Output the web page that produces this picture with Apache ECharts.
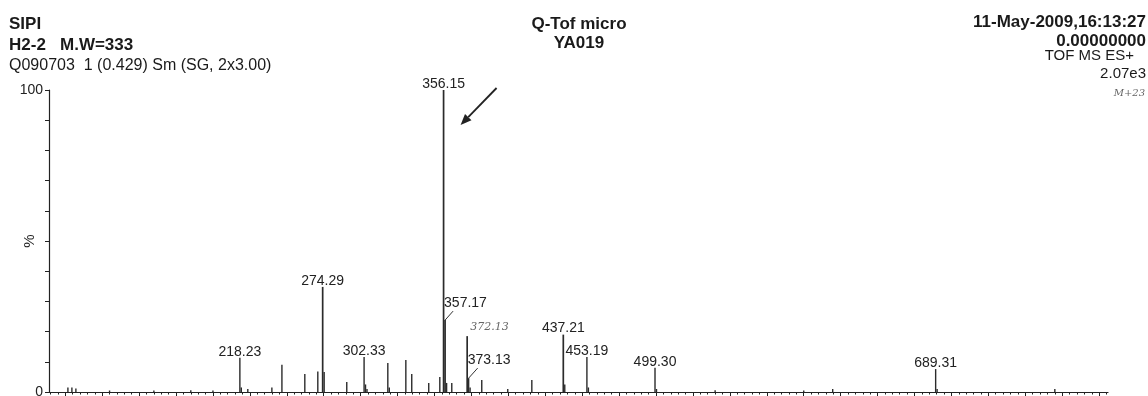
<!DOCTYPE html>
<html>
<head>
<meta charset="utf-8">
<script src="https://cdn.jsdelivr.net/npm/echarts@6/dist/echarts.min.js"></script>
<style>
  html, body { margin: 0; padding: 0; background: #fff; }
  #chart { width: 1148px; height: 396px; }
</style>
</head>
<body>
<div id="chart"></div>
<script>
// spectrum sticks: m/z and relative intensity (%)
const peakMz = [101.8, 104.5, 107.2, 130.0, 160.0, 185.0, 200.0, 218.23, 219.2, 223.6, 239.9, 246.7,
  262.2, 271.0, 274.29, 275.3, 290.6, 302.33, 303.3, 304.3, 318.4, 319.4, 330.6, 334.6, 346.1,
  353.6, 356.15, 357.17, 358.2, 361.7, 372.13, 373.13, 374.1, 382.0, 399.6, 415.9, 437.21, 438.2,
  453.19, 454.2, 499.30, 500.3, 540.0, 600.0, 619.6, 689.31, 690.3, 770.0];
const peakPct = [1.5, 1.5, 1.2, 0.5, 0.5, 0.6, 0.5, 11.3, 1.5, 1.0, 1.5, 9.0,
  6.0, 6.8, 34.8, 6.6, 3.3, 11.6, 2.5, 1.0, 9.6, 1.5, 10.6, 6.0, 3.0,
  5.0, 100, 23.8, 3.0, 3.0, 18.5, 4.6, 1.5, 4.0, 1.0, 4.0, 19.0, 2.5,
  11.6, 1.5, 8.0, 1.0, 0.6, 0.5, 1.0, 7.6, 1.0, 1.0];

// peaks that carry a printed label
const labelMz = [218.23, 274.29, 302.33, 356.15, 357.17, 373.13, 437.21, 453.19, 499.30, 689.31];

// axis ticks
const xMajorTicks = [100, 125, 150, 175, 200, 225, 250, 275, 300, 325, 350, 375, 400, 425, 450,
  475, 500, 525, 550, 575, 600, 625, 650, 675, 700, 725, 750, 775, 800];
const xMinorTicks = [];
for (let v = 90; v <= 805; v += 5) xMinorTicks.push(v);
const yTickLabels = ['0', '100'];

// header texts
const headLeft = ['SIPI', 'H2-2   M.W=333', 'Q090703  1 (0.429) Sm (SG, 2x3.00)'];
const headCenter = ['Q-Tof micro', 'YA019'];
const headRight = ['11-May-2009,16:13:27', '0.00000000', 'TOF MS ES+', '2.07e3'];

// labels drawn with a leader line (offset in px)
const leaderLabels = { '357.17': [8, -9], '373.13': [9, -10] };

const FONT = '"Liberation Sans", Arial, sans-serif';
const INK = '#222';

const sticks = peakMz.map((m, i) => [m, peakPct[i]]);
const labelled = labelMz.map(m => [m, peakPct[peakMz.indexOf(m)]]);

const chart = echarts.init(document.getElementById('chart'));

chart.setOption({
  animation: false,
  backgroundColor: '#fff',
  grid: { left: 49, right: 40, top: 90, bottom: 4, containLabel: false, outerBoundsMode: 'none' },
  xAxis: [{
    type: 'value', min: 89, max: 806, position: 'bottom',
    axisLine: { lineStyle: { color: INK, width: 1.2 } },
    axisTick: { show: true, length: 4, customValues: xMajorTicks, lineStyle: { color: INK } },
    axisLabel: { show: false },
    splitLine: { show: false }
  }, {
    type: 'value', min: 89, max: 806, position: 'bottom', offset: 0,
    axisLine: { show: false },
    axisTick: { show: true, length: 2.5, customValues: xMinorTicks, lineStyle: { color: INK } },
    axisLabel: { show: false },
    splitLine: { show: false }
  }],
  yAxis: {
    type: 'value', min: 0, max: 100, interval: 10,
    name: '%', nameLocation: 'middle', nameRotate: 90, nameGap: 12, nameMoveOverlap: false,
    nameTextStyle: { fontFamily: FONT, fontSize: 15, color: INK },
    axisLine: { show: true, lineStyle: { color: INK, width: 1.2 } },
    axisTick: { show: true, length: 4, lineStyle: { color: INK } },
    axisLabel: {
      margin: 6, fontFamily: FONT, fontSize: 14, color: INK,
      formatter: v => (v === 0 ? yTickLabels[0] : v === 100 ? yTickLabels[1] : '')
    },
    splitLine: { show: false }
  },
  series: [{
    type: 'custom',
    xAxisIndex: 0,
    data: sticks,
    renderItem: (params, api) => {
      const p0 = api.coord([api.value(0), 0]);
      const p1 = api.coord([api.value(0), api.value(1)]);
      return {
        type: 'line',
        shape: { x1: p0[0], y1: p0[1], x2: p1[0], y2: p1[1] },
        style: { stroke: '#2b2b2b', lineWidth: api.value(1) > 15 ? 1.7 : 1.4 }
      };
    }
  }, {
    type: 'custom',
    xAxisIndex: 0,
    data: labelled,
    renderItem: (params, api) => {
      const m = api.value(0);
      const top = api.coord([m, api.value(1)]);
      const txt = m.toFixed(2);
      const off = leaderLabels[txt];
      if (off) {
        return {
          type: 'group',
          children: [{
            type: 'line',
            shape: { x1: top[0], y1: top[1], x2: top[0] + off[0], y2: top[1] + off[1] },
            style: { stroke: '#333', lineWidth: 1 }
          }, {
            type: 'text',
            style: {
              text: txt, x: top[0] - 1, y: top[1] + off[1] - 1,
              font: '14px ' + FONT, fill: INK, textAlign: 'left', textVerticalAlign: 'bottom'
            }
          }]
        };
      }
      return {
        type: 'text',
        style: {
          text: txt, x: top[0], y: top[1] + 1,
          font: '14px ' + FONT, fill: INK, textAlign: 'center', textVerticalAlign: 'bottom'
        }
      };
    }
  }]
});

// header + hand-written notes + arrow pointing at base peak
const base = chart.convertToPixel({ xAxisIndex: 0, yAxisIndex: 0 }, [356.15, 100]);
const hand = chart.convertToPixel({ xAxisIndex: 0, yAxisIndex: 0 }, [372.13, 18.5]);
const tip = [base[0] + 17, base[1] + 35];
const tail = [base[0] + 53, base[1] - 2];
const ang = Math.atan2(tip[1] - tail[1], tip[0] - tail[0]);
const ah = 11, aw = 4.5;
const back = [tip[0] - ah * Math.cos(ang), tip[1] - ah * Math.sin(ang)];
const head = [
  tip,
  [back[0] + aw * Math.sin(ang), back[1] - aw * Math.cos(ang)],
  [back[0] - aw * Math.sin(ang), back[1] + aw * Math.cos(ang)]
];

const txt = (text, x, y, font, align) => ({
  type: 'text', x: x, y: y,
  style: { text: text, font: font, fill: '#1a1a1a', textAlign: align, textVerticalAlign: 'middle' }
});

chart.setOption({
  graphic: [
    txt(headLeft[0], 9, 24, 'bold 17px ' + FONT, 'left'),
    txt(headLeft[1], 9, 45, 'bold 17px ' + FONT, 'left'),
    txt(headLeft[2], 9, 66, '16px ' + FONT, 'left'),
    txt(headCenter[0], 579, 24, 'bold 17px ' + FONT, 'center'),
    txt(headCenter[1], 579, 43, 'bold 17px ' + FONT, 'center'),
    txt(headRight[0], 1146, 22, 'bold 17px ' + FONT, 'right'),
    txt(headRight[1], 1146, 41, 'bold 17px ' + FONT, 'right'),
    txt(headRight[2], 1134, 56, '15px ' + FONT, 'right'),
    txt(headRight[3], 1146, 74, '15px ' + FONT, 'right'),
    {
      type: 'text', x: 1145, y: 93,
      style: { text: 'M+23', font: 'italic 10px "DejaVu Serif", serif', fill: '#666', textAlign: 'right', textVerticalAlign: 'middle' }
    },
    {
      type: 'text', x: hand[0] + 3, y: hand[1] - 9,
      style: { text: '372.13', font: 'italic 11px "DejaVu Serif", serif', fill: '#666', textAlign: 'left', textVerticalAlign: 'middle' }
    },
    {
      type: 'line',
      shape: { x1: tail[0], y1: tail[1], x2: back[0], y2: back[1] },
      style: { stroke: '#222', lineWidth: 1.8 }
    },
    {
      type: 'polygon',
      shape: { points: head },
      style: { fill: '#222' }
    }
  ]
});
</script>
</body>
</html>
